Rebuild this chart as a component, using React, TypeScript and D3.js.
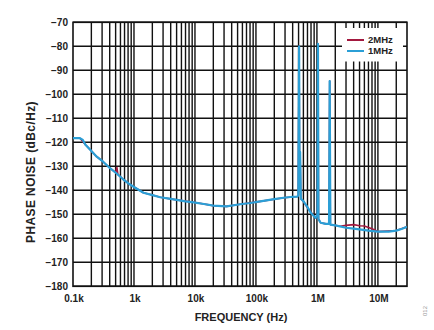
import React from "react";
import * as d3 from "d3";

const yTicks = [-70, -80, -90, -100, -110, -120, -130, -140, -150, -160, -170, -180];
const xTickValues = [1e2, 1e3, 1e4, 1e5, 1e6, 1e7];
const xTickLabels = ["0.1k", "1k", "10k", "100k", "1M", "10M"];
const seriesNames = ["2MHz", "1MHz"];
const seriesColors = ["#a3193f", "#2b9fd6"];

const freq1M = [100, 130, 145, 160, 190, 245, 315, 405, 520, 670, 850, 1000, 1430, 2000, 2700, 4000, 5000, 7000, 9500, 14000, 20000, 33000, 55000, 81000, 118000, 200000, 285000, 400000, 480000, 495000, 510000, 520000, 530000, 545000, 600000, 700000, 800000, 950000, 1020000, 1040000, 1060000, 1150000, 1400000, 1580000, 1620000, 1660000, 2000000, 3000000, 4000000, 5000000, 7000000, 10000000, 15000000, 20000000, 25000000, 30000000];
const noise1M = [-118.3, -118.3, -119, -121, -123, -126, -128.2, -130.8, -133, -135.5, -137.5, -138.6, -141, -142, -142.9, -143.6, -144, -144.6, -145, -145.7, -146.4, -146.7, -145.8, -145.3, -144.6, -143.7, -143.1, -142.7, -142.6, -142, -80, -140, -124, -143.5, -144.5, -147, -149.5, -151.5, -150, -79, -152, -153.5, -154, -154, -94.5, -154.3, -154.6, -155.6, -156, -156.3, -156.8, -157.2, -157.2, -156.8, -156, -155.2];

const freq2M = [100, 130, 160, 190, 245, 315, 405, 500, 525, 545, 670, 850, 1000, 1430, 2000, 2700, 5000, 9500, 20000, 33000, 55000, 118000, 285000, 480000, 495000, 510000, 520000, 530000, 545000, 600000, 700000, 950000, 1020000, 1040000, 1060000, 1150000, 1400000, 1580000, 1620000, 1660000, 2000000, 2400000, 3000000, 4000000, 5000000, 6000000, 8000000, 10000000, 20000000, 30000000];
const noise2M = [-118.3, -118.3, -121, -123, -126, -128.2, -130.8, -132.6, -130.5, -133.4, -135.5, -137.5, -138.6, -141, -142, -142.9, -144, -145, -146.4, -146.7, -145.8, -144.6, -143.1, -142.6, -142, -80, -140, -124, -143.5, -144.7, -147.3, -151.5, -150, -79, -152, -153.5, -154, -154, -94.5, -154.3, -154.6, -155, -154.6, -154.3, -154.8, -154.9, -156, -157.2, -156.8, -155.2];

const W = 434;
const H = 330;
const L = 73;
const R = 407;
const T = 22.3;
const B = 286.3;
const FONT = "'Liberation Sans', Arial, Helvetica, sans-serif";

export default function App() {
  const x = d3.scaleLog().domain([100, 3e7]).range([L, R]);
  const y = d3.scaleLinear().domain([-180, -70]).range([B, T]);

  const minorGrid: number[] = [];
  for (let dec = 100; dec < 3e7; dec *= 10) {
    for (let m = 1; m <= 9; m++) {
      const v = dec * m;
      if (v > 100 && v < 3e7) minorGrid.push(v);
    }
  }

  const line = d3
    .line<[number, number]>()
    .x((d) => x(d[0]))
    .y((d) => y(d[1]));

  const d1 = line(freq1M.map((f, i) => [f, noise1M[i]] as [number, number])) || "";
  const d2 = line(freq2M.map((f, i) => [f, noise2M[i]] as [number, number])) || "";

  const lg = { x: 342, y: 28, w: 61, h: 33.5 };

  return (
    <svg
      width={W}
      height={H}
      style={{ position: "absolute", left: 0, top: 0, background: "#fff" }}
      fontFamily={FONT}
    >
      <rect x={0} y={0} width={W} height={H} fill="#fff" />
      <defs>
        <clipPath id="plot">
          <rect x={L} y={T} width={R - L} height={B - T} />
        </clipPath>
      </defs>
      {minorGrid.map((v) => (
        <line key={"v" + v} x1={x(v)} x2={x(v)} y1={T} y2={B} stroke="#111" strokeWidth={1.4} />
      ))}
      {yTicks.map((v) => (
        <line key={"h" + v} x1={L} x2={R} y1={y(v)} y2={y(v)} stroke="#111" strokeWidth={1.4} />
      ))}
      <rect x={lg.x} y={lg.y} width={lg.w} height={lg.h} fill="#fff" />
      <rect x={L} y={T} width={R - L} height={B - T} fill="none" stroke="#111" strokeWidth={1.6} />
      <g clipPath="url(#plot)">
        <path d={d2} fill="none" stroke={seriesColors[0]} strokeWidth={1.6} strokeLinejoin="round" />
        <path d={d1} fill="none" stroke={seriesColors[1]} strokeWidth={2.2} strokeLinejoin="round" />
      </g>
      {seriesNames.map((n, i) => (
        <g key={n}>
          <line x1={347} x2={364} y1={40 + i * 11} y2={40 + i * 11} stroke={seriesColors[i]} strokeWidth={2} />
          <text x={368} y={43.4 + i * 11} fontSize={9.5} fontWeight="bold" fill="#222">
            {n}
          </text>
        </g>
      ))}
      {yTicks.map((v) => (
        <text key={"yl" + v} x={68} y={y(v) + 3.5} fontSize={10} fontWeight="bold" textAnchor="end" fill="#222">
          {"\u2212" + Math.abs(v)}
        </text>
      ))}
      {xTickValues.map((v, i) => (
        <text key={"xl" + v} x={x(v) + 1} y={302} fontSize={10} fontWeight="bold" textAnchor="middle" fill="#222">
          {xTickLabels[i]}
        </text>
      ))}
      <text x={241} y={320.5} fontSize={11} fontWeight="bold" textAnchor="middle" fill="#222">
        FREQUENCY (Hz)
      </text>
      <text
        transform="translate(35,172) rotate(-90)"
        fontSize={12}
        letterSpacing={0.4}
        fontWeight="bold"
        textAnchor="middle"
        fill="#222"
      >
        PHASE NOISE (dBc/Hz)
      </text>
      <text transform="translate(427,311) rotate(-90)" fontSize={6} textAnchor="middle" fill="#999">
        012
      </text>
    </svg>
  );
}
